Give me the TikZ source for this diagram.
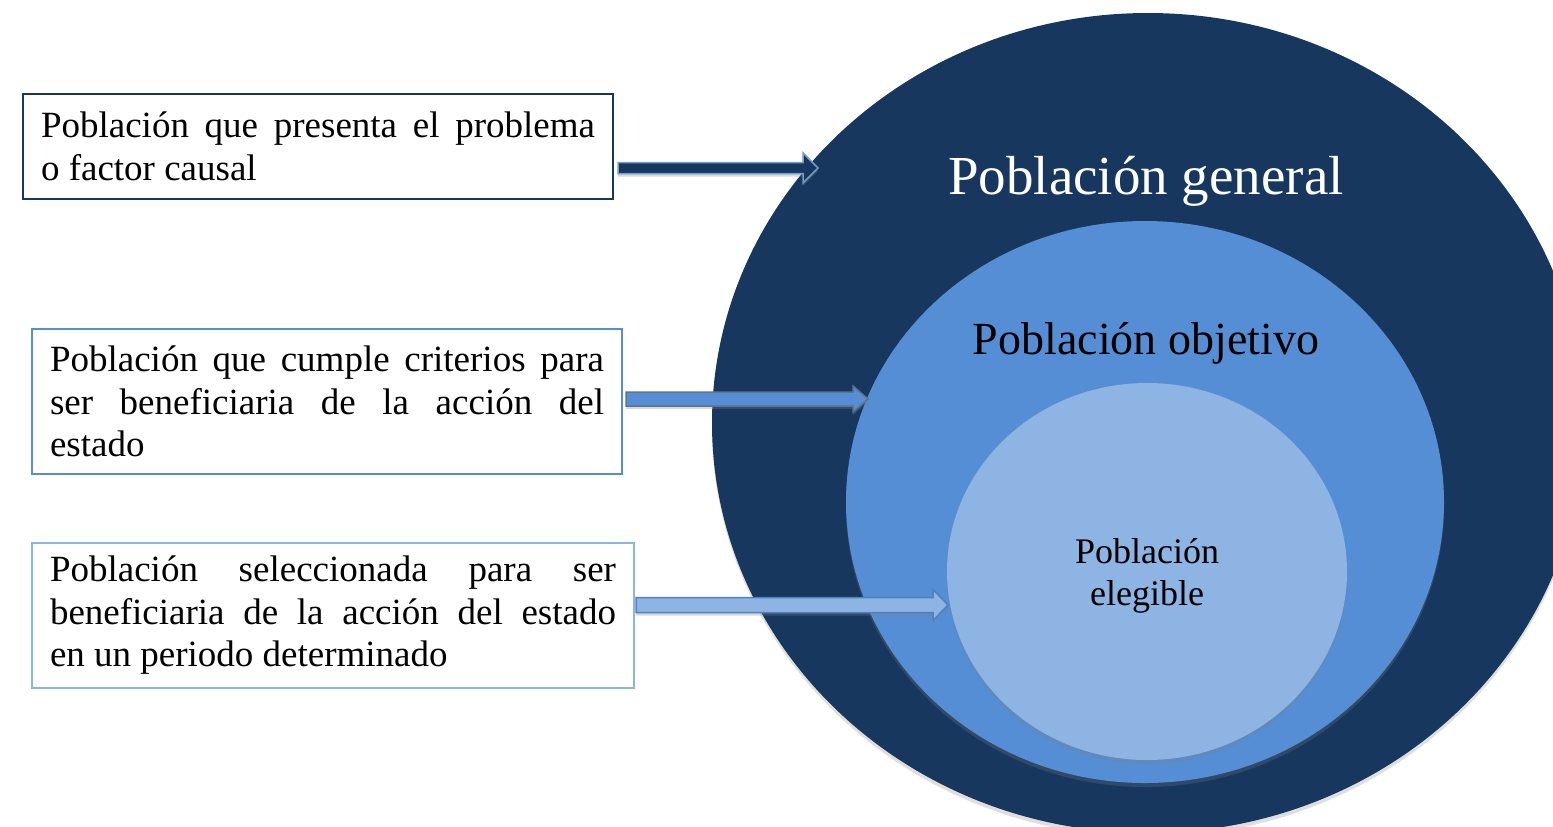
\documentclass[tikz,border=0pt]{standalone}
\usepackage{fontspec}
\setmainfont{Liberation Serif}
\usepackage{tikz}
\usetikzlibrary{shapes,arrows,positioning,shadows,calc}
\definecolor{navy}{RGB}{23, 55, 94}
\definecolor{midblue}{RGB}{85, 142, 213}
\definecolor{lightblue}{RGB}{142, 180, 227}
\definecolor{edgeblue}{RGB}{79, 129, 189}
\tikzstyle{ring} = [ellipse, inner sep=0pt, draw=none, drop shadow={opacity=0.25, shadow xshift=0pt, shadow yshift=-2pt}]
\tikzstyle{title} = [draw=none, fill=none, text centered]
\tikzstyle{textbox} = [rectangle, draw, line width=1pt, text width=277pt, align=justify, inner xsep=9pt, inner ysep=0pt, font=\fontsize{18.5}{21.25}\selectfont]
\tikzstyle{barrow} = [line width=0.75pt, drop shadow={opacity=0.3, shadow xshift=0pt, shadow yshift=-1.5pt}]
% block arrow: style, start, tip, half shaft, half head
\newcommand{\blockarrow}[5]{%
  \path[#1] let \p1=#2, \p2=#3 in
    (\x1,{\y2+#4}) -- ({\x2-7.5pt},{\y2+#4}) -- ({\x2-7.5pt},{\y2+#5})
    -- (\x2,\y2) -- ({\x2-7.5pt},{\y2-#5}) -- ({\x2-7.5pt},{\y2-#4})
    -- (\x1,{\y2-#4}) -- cycle;
}
\begin{document}
\begin{tikzpicture}[x=0.5pt, y=-0.5pt, auto]
\useasboundingbox (0,0) rectangle (1553,826);
\clip (0,0) rectangle (1553,826);

% circles =============================
\node[ring, fill=navy, minimum width=436pt, minimum height=410pt] (general) at (1148,423) {};
\node[ring, fill=midblue, minimum width=299pt, minimum height=281pt] (objetivo) at (1145,502) {};
\node[ring, fill=lightblue, minimum width=200pt, minimum height=188.5pt, align=center, font=\fontsize{18}{21}\selectfont] (elegible) at (1147,571.5) {};
\node[title, align=center, font=\fontsize{18}{21}\selectfont] (telegible) at (1147,576) {Población\\elegible};

% titles in the circles
\node[title, text=white, font=\fontsize{27.5}{33}\selectfont] (tgeneral) at (1146,181) {Población general};
\node[title, font=\fontsize{23}{28}\selectfont] (tobjetivo) at (1146,343) {Población objetivo};

% boxes on the left =============================
\node[textbox, draw=navy, minimum height=52.5pt, anchor=north west] (box1) at (22,93) {Población que presenta el problema\linebreak o factor causal};
\node[textbox, draw=midblue, minimum height=72.5pt, below=64pt of box1.south west, anchor=north west, xshift=4.5pt] (box2) {Población que cumple criterios para\linebreak ser beneficiaria de la acción del\linebreak estado};
\node[textbox, draw=lightblue, text width=283pt, minimum height=72.5pt, below=33.5pt of box2.south west, anchor=north west] (box3) {Población seleccionada para ser\linebreak beneficiaria de la acción del estado\linebreak en un periodo determinado};

% arrows
\coordinate (tip1) at (818,168);
\coordinate (tip2) at (868,399);
\coordinate (tip3) at (948,605);
\blockarrow{barrow, fill=navy, draw=edgeblue!80}{([xshift=2pt]box1.east)}{(tip1)}{2.75pt}{7.5pt}
\blockarrow{barrow, fill=midblue, draw=navy!70}{([xshift=1.5pt]box2.east)}{(tip2)}{3.5pt}{6.5pt}
\blockarrow{barrow, fill=lightblue, draw=edgeblue}{([xshift=0.5pt]box3.east)}{(tip3)}{3.75pt}{7.75pt}

\end{tikzpicture}
\end{document}
